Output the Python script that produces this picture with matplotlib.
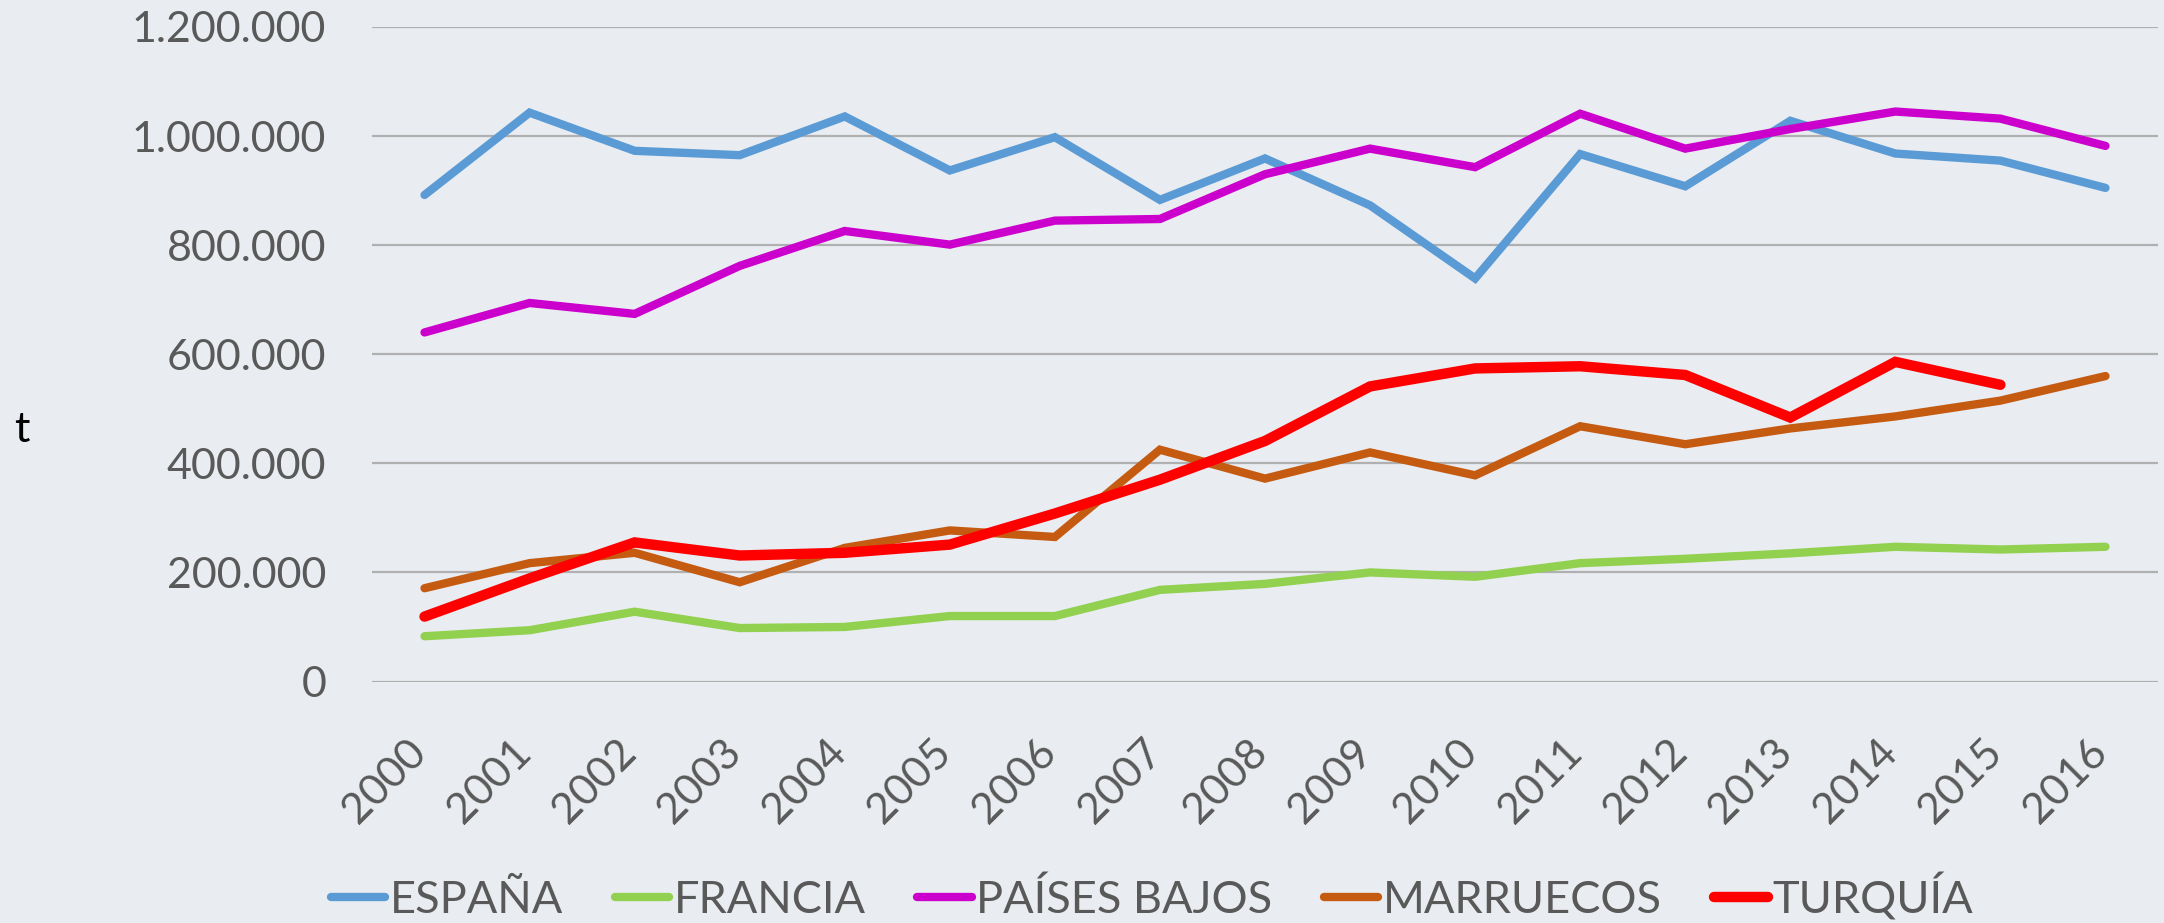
import matplotlib
matplotlib.use("Agg")
import matplotlib.pyplot as plt
import matplotlib.transforms as mtransforms
from matplotlib.ticker import FuncFormatter

years = list(range(2000, 2017))
espana = [892000, 1043000, 973000, 965000, 1036000, 937000, 998000, 883000, 959000,
          873000, 739000, 967000, 908000, 1028000, 968000, 955000, 905000]
francia = [83000, 94000, 128000, 98000, 100000, 120000, 120000, 168000, 179000,
           200000, 192000, 217000, 225000, 235000, 247000, 242000, 247000]
paises_bajos = [640000, 694000, 674000, 762000, 826000, 801000, 845000, 848000, 930000,
                977000, 943000, 1041000, 977000, 1013000, 1045000, 1032000, 982000]
marruecos = [171000, 217000, 236000, 182000, 245000, 277000, 265000, 425000, 372000,
             420000, 378000, 468000, 435000, 464000, 486000, 515000, 560000]
turquia = [119000, 189000, 255000, 231000, 236000, 251000, 308000, 370000, 441000,
           541000, 574000, 578000, 562000, 484000, 586000, 544000]

series = [
    ("ESPAÑA", espana, "#5B9BD5", 6.0),
    ("FRANCIA", francia, "#92D050", 6.0),
    ("PAÍSES BAJOS", paises_bajos, "#CC00CC", 6.0),
    ("MARRUECOS", marruecos, "#C55A11", 6.0),
    ("TURQUÍA", turquia, "#FF0000", 7.5),
]

BG = "#E9ECF1"
TXT = "#595959"
FS = 31
plt.rcParams["font.family"] = ["Lato", "DejaVu Sans"]

fig = plt.figure(figsize=(21.64, 9.23), dpi=100)
fig.patch.set_facecolor(BG)
ax = fig.add_axes([372 / 2164, 1 - 681.5 / 923, (2158 - 372) / 2164, (681.5 - 27) / 923])
ax.set_facecolor(BG)

x = list(range(len(years)))
for name, vals, col, lw in series:
    ax.plot(x[:len(vals)], vals, color=col, lw=lw, label=name,
            solid_capstyle="round", solid_joinstyle="miter")

ax.set_xlim(-0.5, len(years) - 0.5)
ax.set_ylim(0, 1200000)
ax.set_yticks(range(0, 1200001, 200000))
ax.yaxis.set_major_formatter(FuncFormatter(lambda v, p: f"{int(v):,}".replace(",", ".")))
ax.grid(axis="y", color="#B0B0B0", lw=1.6, zorder=0)
ax.set_axisbelow(True)
for s in ax.spines.values():
    s.set_visible(False)
ax.axhline(0, color="#D9D9D9", lw=2, zorder=0)

ax.tick_params(axis="y", length=0, pad=33, labelsize=FS, labelcolor=TXT)
ax.tick_params(axis="x", length=0, pad=37, labelsize=FS, labelcolor=TXT)
ax.set_xticks(x)
ax.set_xticklabels([str(y) for y in years], rotation=45, ha="right")
offset = mtransforms.ScaledTranslation(9 / 100, 0, fig.dpi_scale_trans)
for lab in ax.get_xticklabels():
    lab.set_transform(lab.get_transform() + offset)

fig.text(14 / 2164, 1 - 430 / 923, "t", fontsize=FS, color="black", va="center")

leg = fig.legend(loc="center", bbox_to_anchor=(1152 / 2164, 1 - 897 / 923), ncol=5,
                 frameon=False, fontsize=32.5, handlelength=1.2, handletextpad=0.1,
                 columnspacing=1.15, borderaxespad=0)
for t in leg.get_texts():
    t.set_color(TXT)
for h, (_, _, _, lw) in zip(leg.get_lines(), series):
    h.set_linewidth(lw)
    h.set_solid_capstyle("round")

fig.savefig("out.png", dpi=100, facecolor=BG)
